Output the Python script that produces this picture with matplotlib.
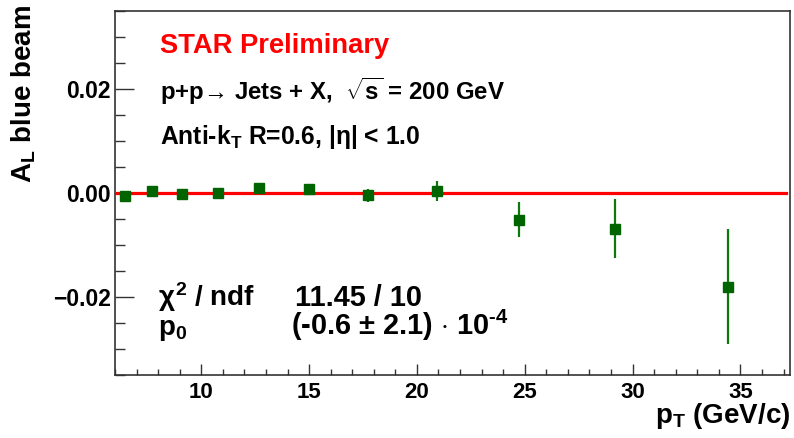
import matplotlib
matplotlib.use("Agg")
import matplotlib.pyplot as plt
from matplotlib.ticker import MultipleLocator, FuncFormatter

plt.rcParams['font.family'] = ['Liberation Sans', 'DejaVu Sans']
plt.rcParams['font.weight'] = 'bold'
plt.rcParams['mathtext.fontset'] = 'custom'
plt.rcParams['mathtext.rm'] = 'Liberation Sans:bold'
plt.rcParams['mathtext.it'] = 'Liberation Sans:bold'
plt.rcParams['mathtext.bf'] = 'Liberation Sans:bold'
plt.rcParams['mathtext.sf'] = 'Liberation Sans:bold'

# Jet pT bins and measured asymmetry with statistical errors
pt = [6.48, 7.72, 9.13, 10.77, 12.70, 15.00, 17.73, 20.93, 24.72, 29.20, 34.41]
al = [-0.00065, 0.00040, -0.00027, 0.00000, 0.00096, 0.00080, -0.00046,
      0.00040, -0.00512, -0.00685, -0.01798]
al_err = [0.0006, 0.0006, 0.0006, 0.0006, 0.0007, 0.0008, 0.0012,
          0.0020, 0.0033, 0.0057, 0.0110]

# Constant fit result
p0 = -0.6e-4
fit_range = [6.1, 37.1]

W, H = 794, 438
fig = plt.figure(figsize=(W / 100, H / 100), dpi=100)
ax = fig.add_axes([0.1448, 0.1438, 0.8502, 0.8311])

green = '#006400'
ax.errorbar(pt, al, yerr=al_err, fmt='s', color=green, ecolor='#0b7a0b',
            markersize=7.2, elinewidth=1.6, capsize=0, zorder=3)
ax.plot(fit_range, [p0, p0], color='#ff0000', lw=2.3, zorder=2)

ax.set_xlim(6.0, 37.3)
ax.set_ylim(-0.035, 0.035)

ax.xaxis.set_major_locator(MultipleLocator(5))
ax.xaxis.set_minor_locator(MultipleLocator(1))
ax.yaxis.set_major_locator(MultipleLocator(0.02))
ax.yaxis.set_minor_locator(MultipleLocator(0.005))
ax.yaxis.set_major_formatter(FuncFormatter(lambda v, p: ('%.2f' % v).replace('-', '\u2212')))
ax.xaxis.set_major_formatter(FuncFormatter(lambda v, p: '%d' % v))

ax.tick_params(axis='y', which='major', direction='in', length=14, width=1.0,
               labelsize=16.5, pad=3, colors='#333333', labelcolor='black')
ax.tick_params(axis='y', which='minor', direction='in', length=7, width=1.0,
               colors='#333333')
ax.tick_params(axis='x', which='major', direction='in', length=8, width=1.0,
               labelsize=16, pad=5, colors='#333333', labelcolor='black')
ax.tick_params(axis='x', which='minor', direction='in', length=4.5, width=1.0,
               colors='#333333')
for s in ax.spines.values():
    s.set_color('#333333')
    s.set_linewidth(1.2)


def px(xp, yp):
    return fig.transFigure.inverted().transform((xp, H - yp))


# axis titles
fig.text(*px(24, 94), r'A$_{\rm L}$ blue beam', fontsize=20, fontweight='bold',
         rotation=90, ha='center', va='center')
fig.text(*px(790, 423), r'p$_{\rm T}$ (GeV/c)', fontsize=20, fontweight='bold',
         ha='right', va='baseline')

# labels
fig.text(*px(160, 53), 'STAR Preliminary', color='#ff0000', fontsize=19.7,
         fontweight='bold', va='baseline', ha='left')
fig.text(*px(160, 100), r'p+p→ Jets + X,  $\sqrt{\rm s}$ = 200 GeV',
         fontsize=17.3, fontweight='bold', va='baseline', ha='left')
fig.text(*px(160, 144), r'Anti-k$_{\rm T}$ R=0.6, |$\eta$| < 1.0',
         fontsize=17.7, fontweight='bold', va='baseline', ha='left')

# fit statistics
fig.text(*px(158, 306), r'$\chi^{2}$ / ndf', fontsize=20, va='baseline', ha='left')
fig.text(*px(295, 306), '11.45 / 10', fontsize=20.8, va='baseline', ha='left')
fig.text(*px(158, 335), r'p$_{0}$', fontsize=20, va='baseline', ha='left')
fig.text(*px(291, 335), '(-0.6 $\\pm$ 2.1) $\\cdot$ 10$^{\u20104}$', fontsize=20.8,
         va='baseline', ha='left')

fig.savefig('out.png', dpi=100)
